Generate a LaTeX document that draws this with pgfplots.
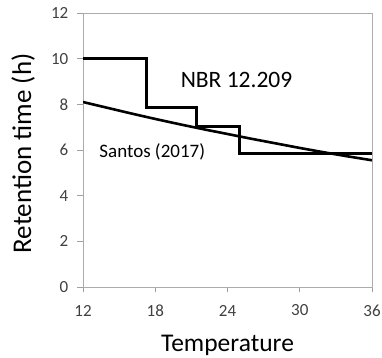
\documentclass[border=0pt]{standalone}
\usepackage{pgfplots}
\pgfplotsset{compat=1.18}
\usepackage{fontspec}
\setmainfont{Carlito}
\begin{document}
\begin{tikzpicture}
\begin{axis}[
  scale only axis,
  width=289pt, height=274pt,
  xmin=12, xmax=36, ymin=0, ymax=12,
  xtick={12,18,24,30,36},
  ytick={0,2,4,6,8,10,12},
  tick align=outside,
  xtick pos=left, ytick pos=left,
  major tick length=5.5pt,
  tick style={gray!75, line width=0.7pt},
  axis line style={gray!65, line width=0.9pt},
  ticklabel style={font=\fontsize{17}{19}\selectfont, text=black!75, inner sep=0pt},
  /pgf/number format/assume math mode=true,
  xticklabel style={anchor=center, yshift=-18pt},
  yticklabel style={anchor=east, xshift=-9pt},
  xlabel={Temperature},
  ylabel={Retention time (h)},
  xlabel style={font=\fontsize{25.5}{28}\selectfont, inner sep=0pt, at={(axis description cs:0.5,-0.2117)}, anchor=center},
  ylabel style={font=\fontsize{27}{30}\selectfont, inner sep=0pt, at={(axis description cs:-0.2076,0.487)}, anchor=center, rotate=0},
]
\addplot[black, line width=3pt, const plot] coordinates {
  (12,10) (17.3,7.85) (21.4,7.05) (25,5.83) (36,5.83)
};
\addplot[black, line width=2.6pt, smooth] coordinates {
  (12,8.1) (14,7.85) (16,7.6) (18,7.36) (20,7.13) (22,6.91) (24,6.7)
  (26,6.49) (28,6.29) (30,6.09) (32,5.9) (34,5.72) (36,5.55)
};
\node[font=\fontsize{23.5}{27}\selectfont, anchor=center, inner sep=0pt] at (axis cs:24.75,9.07) {NBR 12.209};
\node[font=\fontsize{19}{22}\selectfont, anchor=west, inner sep=0pt] at (axis cs:13.35,5.91) {Santos (2017)};
\coordinate (bl) at (axis description cs:-0.2872,-0.2591);
\coordinate (tr) at (axis description cs:1.0346,1.0474);
\end{axis}
\pgfresetboundingbox
\path (bl) rectangle (tr);
\end{tikzpicture}
\end{document}
